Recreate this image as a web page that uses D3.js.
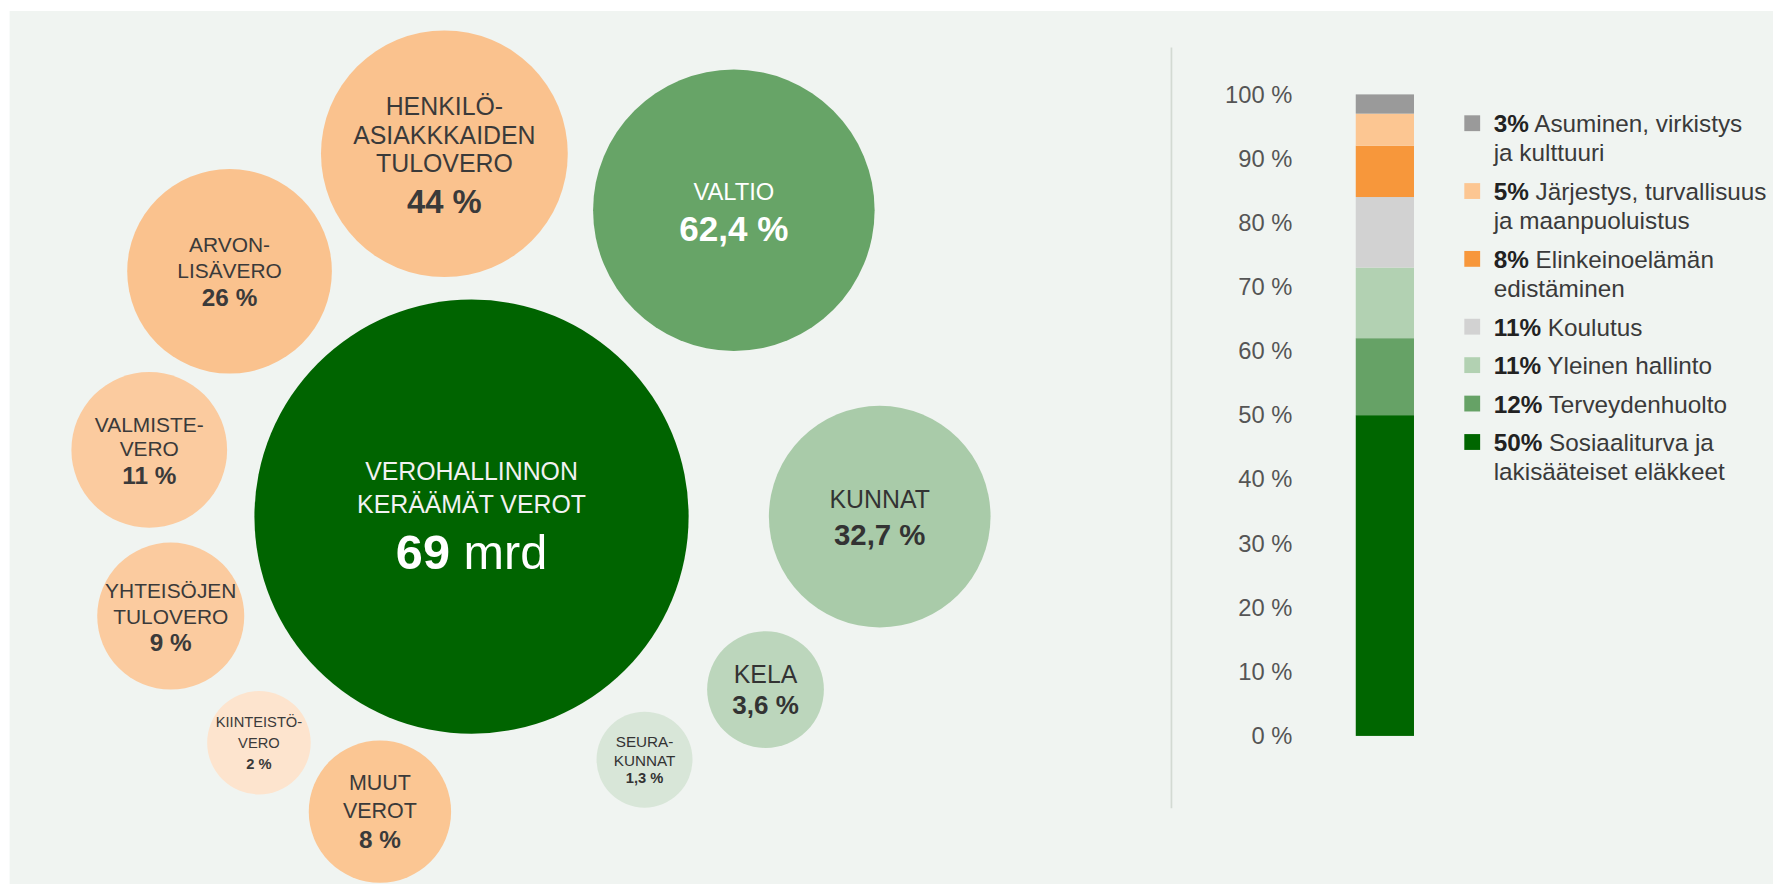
<!DOCTYPE html>
<html>
<head>
<meta charset="utf-8">
<script src="https://cdn.jsdelivr.net/npm/d3@7"></script>
<style>
html, body { margin: 0; padding: 0; background: #fff; }
svg { display: block; font-family: "Liberation Sans", Arial, sans-serif; }
</style>
</head>
<body>
<svg id="chart"></svg>
<script>
// drawing units; the svg is stretched to fill the 1773x884 window
var W = 1568, H = 782;

// where the collected taxes come from (% of total)
var taxLines = [["HENKILÖ-", "ASIAKKKAIDEN", "TULOVERO"], ["ARVON-", "LISÄVERO"], ["VALMISTE-", "VERO"],
                ["YHTEISÖJEN", "TULOVERO"], ["KIINTEISTÖ-", "VERO"], ["MUUT", "VEROT"]];
var taxShares = [44, 26, 11, 9, 2, 8];

// who receives them (% of total)
var recipLines = [["VALTIO"], ["KUNNAT"], ["KELA"], ["SEURA-", "KUNNAT"]];
var recipShares = [62.4, 32.7, 3.6, 1.3];

var hubLines = ["VEROHALLINNON", "KERÄÄMÄT VEROT"];
var hubTotal = 69; // mrd

// state spending, bottom of the bar to the top (%)
var spendLines = [["Sosiaaliturva ja", "lakisääteiset eläkkeet"], ["Terveydenhuolto"], ["Yleinen hallinto"],
                  ["Koulutus"], ["Elinkeinoelämän", "edistäminen"], ["Järjestys, turvallisuus", "ja maanpuoluistus"],
                  ["Asuminen, virkistys", "ja kulttuuri"]];
var spendShares = [50, 12, 11, 11, 8, 5, 3];
var axisTicks = [0, 10, 20, 30, 40, 50, 60, 70, 80, 90, 100];

// ---- layout & styles ----
var taxPos = [[393, 136], [203, 240], [132, 398], [151, 545], [229, 657], [336, 718]];
var taxFill = ["#fac28e", "#fac28e", "#fbcb9f", "#fbcb9f", "#fde4ce", "#fbc693"];
// label size, value size, line height, gap to value line
var taxText = [[22, 29, 25.5, 34], [18.5, 21.5, 23, 24], [18.5, 21.5, 21, 24], [18.5, 21.5, 23, 23],
               [13, 13, 19, 18], [19, 21.5, 24, 26]];

var recipPos = [[649, 186], [778, 457], [677, 610], [570, 672]];
var recipFill = ["#67a467", "#a9cba9", "#bcd6bc", "#d8e6d8"];
var recipText = [[21, 31, 0, 33], [22, 26, 0, 32], [22, 23, 0, 27], [13.5, 13, 17, 15]];
var recipInk = ["#ffffff", "#333333", "#333333", "#333333"];

var hubPos = [417, 457], hubR = 192;
var spendFill = ["#006600", "#66a266", "#b2d1b2", "#d2d2d2", "#f7973b", "#fcc692", "#9a9a9a"];

var fi = d3.formatLocale({decimal: ",", thousands: "\u00a0", grouping: [3], currency: ["", " €"]});
var num = fi.format("");

var svg = d3.select("#chart")
    .attr("width", 1773).attr("height", 884)
    .attr("viewBox", "0 0 " + W + " " + H)
    .attr("preserveAspectRatio", "none");

svg.append("rect").attr("x", 8.5).attr("y", 9.7).attr("width", W).attr("height", H)
    .attr("fill", "#f0f4f1");

// bubble size follows the share (with a floor so small ones stay readable)
var r = d3.scaleSqrt().domain([0, 100]).range([28.6, 150]);

/*
 * Draw one labelled bubble
 */
drawBubble = function(cx, cy, rad, fill, lines, value, st, ink) {
    var g = svg.append("g").attr("transform", "translate(" + cx + "," + cy + ")");
    g.append("circle").attr("r", rad).attr("fill", fill);
    var blockH = (lines.length - 1) * st[2] + st[3];
    var y0 = -blockH / 2;
    lines.forEach(function(t, i) {
        g.append("text").attr("y", y0 + i * st[2])
            .attr("text-anchor", "middle").attr("dominant-baseline", "central")
            .attr("font-size", st[0]).attr("fill", ink).text(t);
    });
    g.append("text").attr("y", y0 + (lines.length - 1) * st[2] + st[3])
        .attr("text-anchor", "middle").attr("dominant-baseline", "central")
        .attr("font-size", st[1]).attr("font-weight", "bold").attr("fill", ink)
        .text(num(value) + " %");
}

taxShares.forEach(function(v, i) {
    drawBubble(taxPos[i][0], taxPos[i][1], r(v), taxFill[i], taxLines[i], v, taxText[i], "#3a3a3a");
});
recipShares.forEach(function(v, i) {
    drawBubble(recipPos[i][0], recipPos[i][1], r(v), recipFill[i], recipLines[i], v, recipText[i], recipInk[i]);
});

// the hub: everything collected
var hub = svg.append("g").attr("transform", "translate(" + hubPos[0] + "," + hubPos[1] + ")");
hub.append("circle").attr("r", hubR).attr("fill", "#006400");
hubLines.forEach(function(t, i) {
    hub.append("text").attr("y", -40 + i * 29)
        .attr("text-anchor", "middle").attr("dominant-baseline", "central")
        .attr("font-size", 22).attr("fill", "#f2f2f2").text(t);
});
var big = hub.append("text").attr("y", 31).attr("text-anchor", "middle")
    .attr("dominant-baseline", "central").attr("font-size", 43).attr("fill", "#ffffff");
big.append("tspan").attr("font-weight", "bold").text(hubTotal);
big.append("tspan").text(" mrd");

// divider
svg.append("line").attr("x1", 1036).attr("x2", 1036).attr("y1", 42).attr("y2", 715)
    .attr("stroke", "#d3dad3").attr("stroke-width", 1.5);

// ---- stacked bar ----
var y = d3.scaleLinear().domain([0, 100]).range([651, 83.5]);
var x = d3.scaleBand().domain(["menot"]).range([1199, 1250.5]);

var row = {};
spendShares.forEach(function(v, i) { row[i] = v; });
var stack = d3.stack().keys(d3.range(spendShares.length))([row]);

svg.append("g").selectAll("rect").data(stack).join("rect")
    .attr("x", x("menot")).attr("width", x.bandwidth())
    .attr("y", function(s) { return y(s[0][1]); })
    .attr("height", function(s) { return y(s[0][0]) - y(s[0][1]); })
    .attr("fill", function(s, i) { return spendFill[i]; });

var axis = svg.append("g").attr("transform", "translate(1143,0)")
    .call(d3.axisLeft(y).tickValues(axisTicks).tickSize(0).tickPadding(0)
        .tickFormat(function(d) { return d + " %"; }));
axis.select(".domain").remove();
axis.selectAll("text").attr("font-size", 21).attr("fill", "#555")
    .attr("font-family", "Liberation Sans, Arial, sans-serif");

// ---- legend (top of bar first) ----
var ly = 109;
d3.range(spendShares.length - 1, -1, -1).forEach(function(i) {
    var lines = spendLines[i];
    svg.append("rect").attr("x", 1295).attr("y", ly - 7).attr("width", 14).attr("height", 14)
        .attr("fill", spendFill[i]);
    lines.forEach(function(t, j) {
        var tx = svg.append("text").attr("x", 1321).attr("y", ly + j * 26)
            .attr("dominant-baseline", "central").attr("font-size", 21.5).attr("fill", "#3a3a3a");
        if (j == 0) {
            tx.append("tspan").attr("font-weight", "bold").attr("fill", "#222").text(spendShares[i] + "%");
            tx.append("tspan").text(" " + t);
        } else {
            tx.text(t);
        }
    });
    ly += lines.length * 26 + 8;
});
</script>
</body>
</html>
